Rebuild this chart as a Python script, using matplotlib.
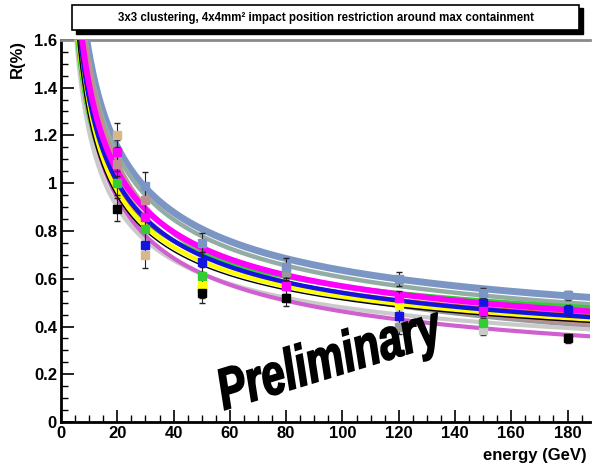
import numpy as np
import matplotlib
matplotlib.use("Agg")
import matplotlib.pyplot as plt
import matplotlib.transforms as mtransforms
from matplotlib.patches import Rectangle, PathPatch
from matplotlib.textpath import TextPath
from matplotlib.font_manager import FontProperties
from matplotlib.ticker import MultipleLocator

plt.rcParams['font.family'] = ['Liberation Sans', 'DejaVu Sans']
plt.rcParams['font.weight'] = 'bold'

nan = np.nan

# beam energies (GeV) and per-energy uncertainty on R
energy = [20, 30, 50, 80, 120, 150, 180]
r_err = [0.05, 0.055, 0.04, 0.035, 0.03, 0.02, 0.02]

# fit R = a/sqrt(E) + b for each configuration
names = ["steel", "teal", "green", "magenta", "rosy", "blue", "yellow",
         "black", "orange", "lightgrey", "violet", "grey", "tan"]
colors = ["#7b96c4", "#93aca4", "#33cc33", "#ff00ff", "#c09090", "#1414e0", "#ffff00",
          "#000000", "#e07a20", "#cacaca", "#d060d0", "#9a9a9a", "#d8b88a"]
widths = [5.0, 3.2, 3.0, 4.2, 3.2, 3.2, 3.2, 1.0, 1.5, 3.0, 3.0, 3.0, 2.0]
fit_a = [4.18, 4.16, 3.27, 3.89, 4.44, 3.75, 3.55, 3.49, 3.56, 3.39, 3.84, 4.53, 3.98]
fit_b = [0.217, 0.19, 0.242, 0.18, 0.089, 0.166, 0.171, 0.163, 0.19, 0.141, 0.079, 0.072, 0.134]

# measured resolution points (nan where no point was taken)
r_steel = [nan, 0.99, 0.75, 0.65, 0.60, 0.54, 0.53]
r_teal = [nan, nan, nan, nan, nan, nan, nan]
r_green = [1.00, 0.81, 0.61, nan, nan, 0.415, nan]
r_magenta = [1.13, 0.86, nan, 0.57, 0.52, 0.465, nan]
r_rosy = [1.08, 0.93, nan, nan, nan, nan, nan]
r_blue = [nan, 0.74, 0.67, nan, 0.445, 0.50, 0.47]
r_yellow = [nan, nan, 0.57, nan, 0.49, nan, nan]
r_black = [0.89, nan, 0.54, 0.52, nan, nan, 0.35]
r_orange = [nan, nan, nan, nan, nan, nan, nan]
r_lightgrey = [nan, nan, nan, nan, nan, 0.385, nan]
r_violet = [nan, nan, nan, nan, nan, nan, nan]
r_grey = [nan, nan, nan, 0.63, 0.40, nan, nan]
r_tan = [1.20, 0.70, 0.56, nan, nan, nan, nan]
points = [r_steel, r_teal, r_green, r_magenta, r_rosy, r_blue, r_yellow,
          r_black, r_orange, r_lightgrey, r_violet, r_grey, r_tan]

fig = plt.figure(figsize=(5.93, 4.68), dpi=100)
ax = fig.add_axes([0.103, 0.098, 0.892, 0.817])

e_line = np.linspace(3.5, 190, 600)
# draw from bottom layer to top
order = [11, 0, 1, 12, 4, 9, 10, 2, 8, 6, 5, 3, 7]
for k, i in enumerate(order):
    r = fit_a[i] / np.sqrt(e_line) + fit_b[i]
    ax.plot(e_line, r, color=colors[i], lw=widths[i], zorder=3 + k * 0.01)
for i in order:
    ax.errorbar(energy, points[i], yerr=r_err, fmt='s', color=colors[i], ms=6,
                ecolor='#222222', elinewidth=0.8, capsize=2, mec=colors[i], zorder=4)

ax.set_xlim(0, 188)
ax.set_ylim(0, 1.6)
ax.xaxis.set_major_locator(MultipleLocator(20))
ax.xaxis.set_minor_locator(MultipleLocator(5))
ax.yaxis.set_minor_locator(MultipleLocator(0.05))
ax.set_yticks([0, 0.2, 0.4, 0.6, 0.8, 1, 1.2, 1.4, 1.6])
ax.set_yticklabels(["0", "0.2", "0.4", "0.6", "0.8", "1", "1.2", "1.4", "1.6"])
ax.tick_params(which='major', direction='in', length=9, width=1.2, labelsize=12, pad=3)
ax.tick_params(which='minor', direction='in', length=5, width=1.0)
ax.tick_params(top=False, right=False)
for lab in ax.get_xticklabels() + ax.get_yticklabels():
    lab.set_fontweight('bold')

ax.spines['left'].set_linewidth(2)
ax.spines['bottom'].set_linewidth(2)
ax.spines['top'].set_color('#8a8a8a')
ax.spines['top'].set_linewidth(2)
ax.spines['right'].set_visible(False)

fig.text(0.03, 0.915, "R(%)", rotation=90, ha='center', va='top', fontsize=12, fontweight='bold')
fig.text(0.99, 0.01, "energy (GeV)", ha='right', va='bottom', fontsize=12, fontweight='bold')

# title box with drop shadow
fig.patches.append(Rectangle((0.128, 0.928), 0.855, 0.055, transform=fig.transFigure,
                             facecolor='black', edgecolor='black', zorder=5))
fig.patches.append(Rectangle((0.122, 0.935), 0.855, 0.055, transform=fig.transFigure,
                             facecolor='white', edgecolor='black', lw=1.2, zorder=6))
fig.text(0.55, 0.962, "3x3 clustering, 4x4mm² impact position restriction around max containment",
         ha='center', va='center', fontsize=8.3, fontweight='bold', zorder=7)

# condensed, tilted "Preliminary" stamp (pixel coordinates)
tp = TextPath((0, 0), "Preliminary", size=58,
              prop=FontProperties(family='Liberation Sans', weight='bold', style='italic'))
stamp = mtransforms.Affine2D().scale(0.73, 1.0).rotate_deg(17).translate(224, 58)
ax.add_patch(PathPatch(tp, transform=stamp, facecolor='black', edgecolor='black',
                       lw=1.2, zorder=10, clip_on=False))

fig.savefig("out.png", dpi=100)
